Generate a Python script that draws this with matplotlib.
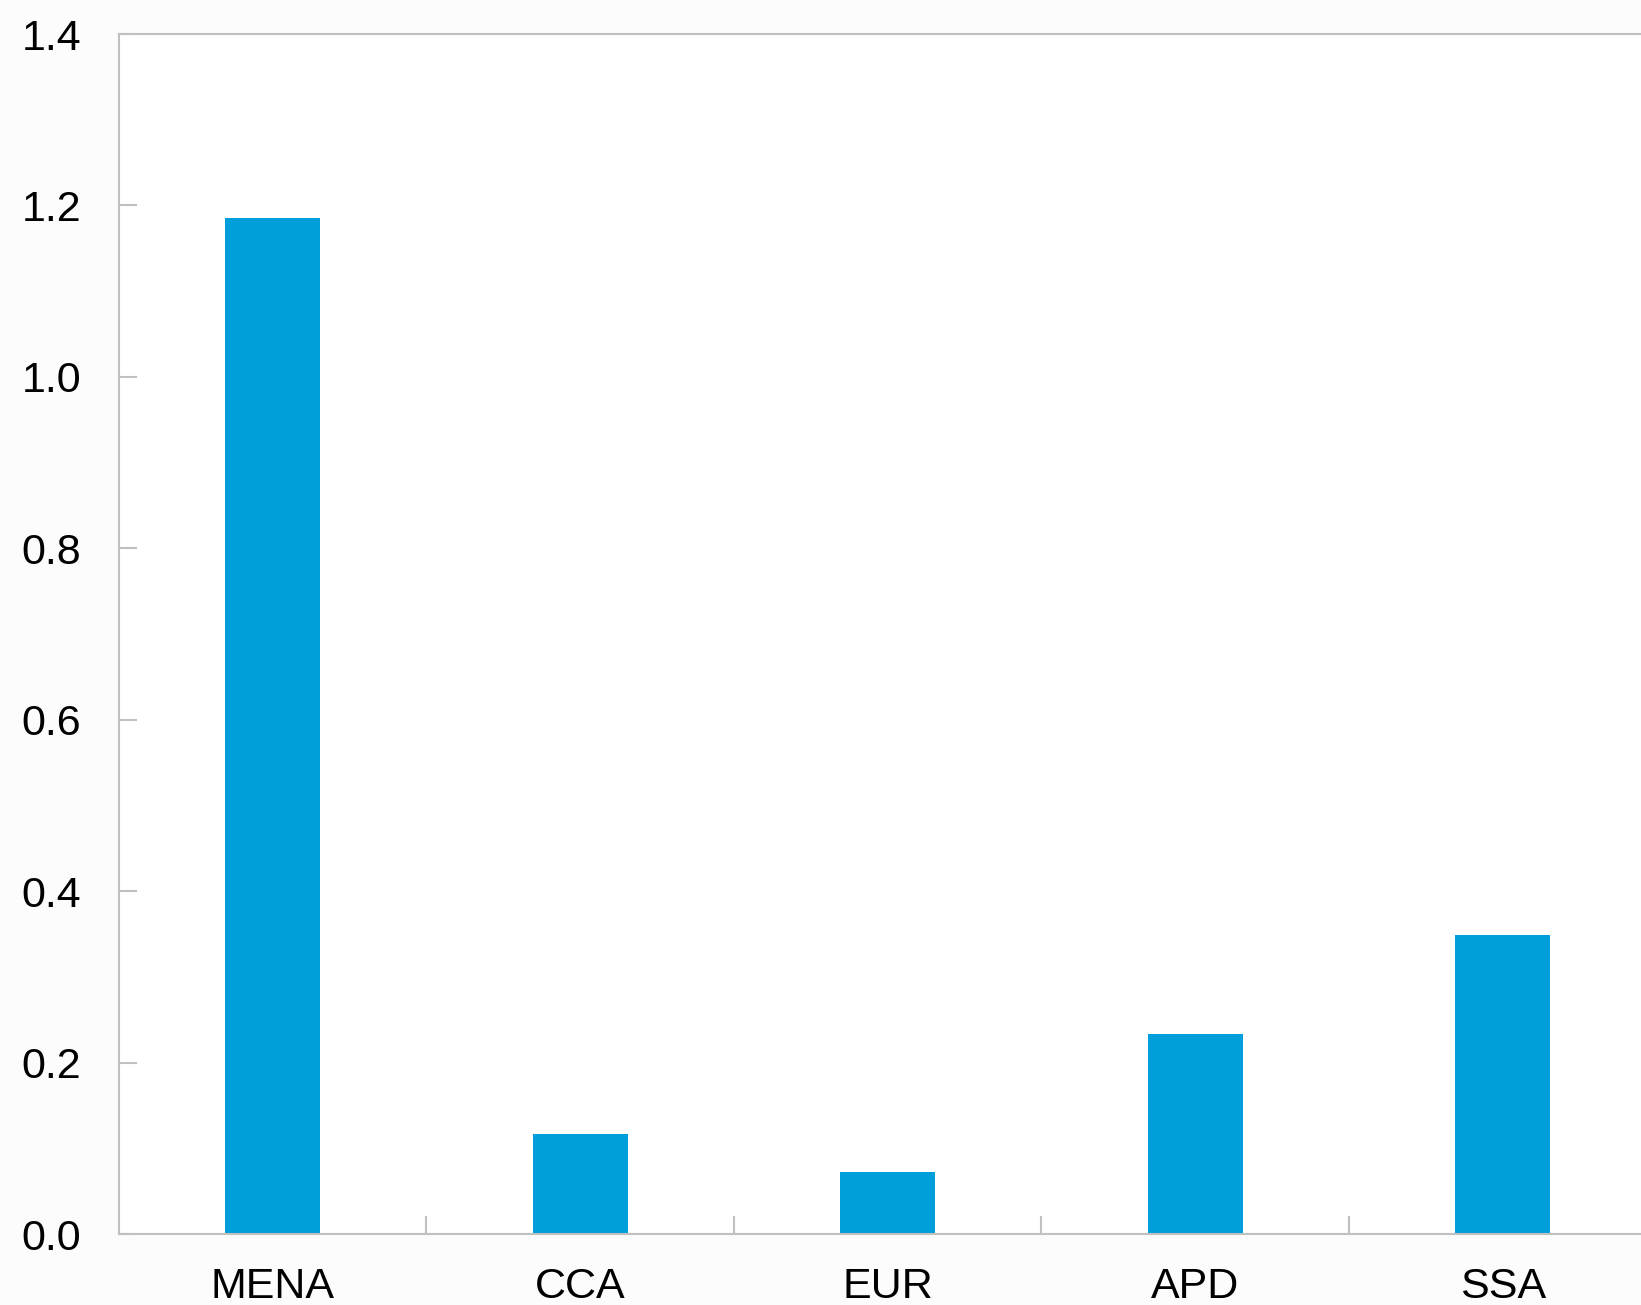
import numpy as np
import matplotlib.pyplot as plt

# data
regions = ["MENA", "CCA", "EUR", "APD", "SSA"]
values = [1.185, 0.117, 0.072, 0.233, 0.349]
y_ticks = [0.0, 0.2, 0.4, 0.6, 0.8, 1.0, 1.2, 1.4]

plt.rcParams['font.family'] = ['Liberation Sans', 'DejaVu Sans']

fig = plt.figure(figsize=(16.41, 13.05), dpi=100)
fig.patch.set_facecolor("#fcfcfc")
ax = fig.add_axes([119 / 1641, 1 - 1234 / 1305, 1 - 119 / 1641, (1234 - 34) / 1305])
ax.set_facecolor("white")

x = np.arange(len(regions))
ax.bar(x, values, width=0.31, color="#009fdb")

ax.set_xlim(-0.5, 4.45)
ax.set_ylim(0, 1.4)
ax.set_yticks(y_ticks)
ax.set_yticklabels([f"{v:.1f}" for v in y_ticks])

# category labels centered, tick marks at the boundaries
ax.set_xticks(x)
ax.set_xticklabels(regions)
ax.set_xticks(np.arange(0.5, 4.5, 1), minor=True)
ax.tick_params(axis="x", which="major", length=0, labelsize=31, pad=24)
ax.tick_params(axis="x", which="minor", direction="in", length=13, width=1.5, color="#c0c0c0")
ax.tick_params(axis="y", direction="in", length=13, width=1.5, color="#c0c0c0",
               labelsize=31, pad=27)

for side in ["left", "bottom", "top"]:
    ax.spines[side].set_color("#c0c0c0")
    ax.spines[side].set_linewidth(1.5)
ax.spines["right"].set_visible(False)

fig.savefig("out.png", dpi=100, facecolor=fig.get_facecolor())
